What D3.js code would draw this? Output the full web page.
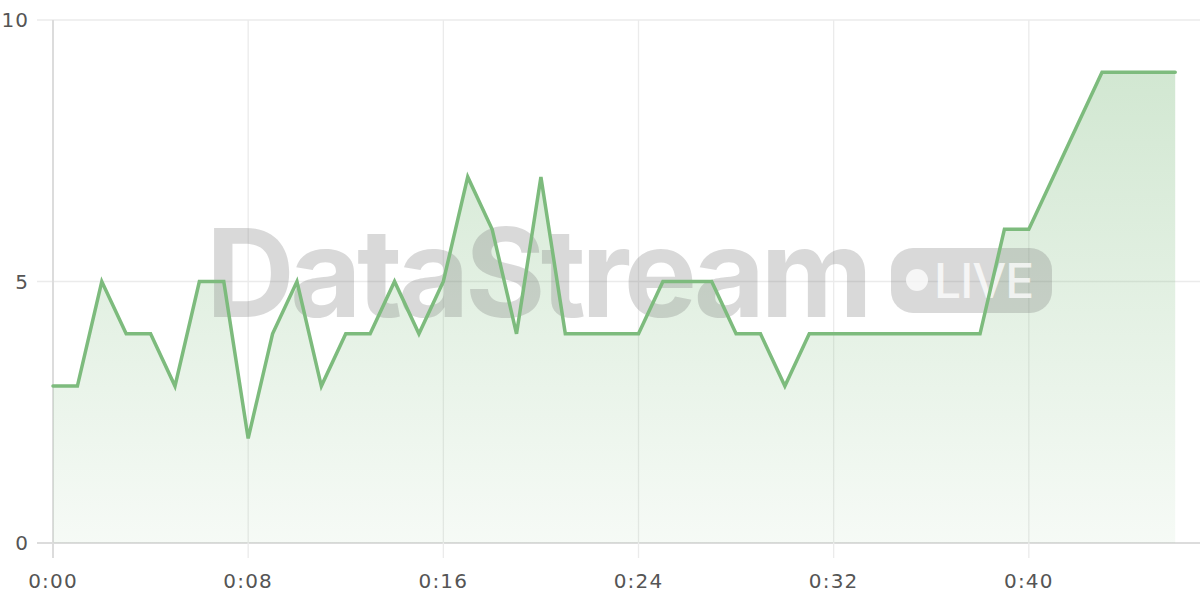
<!DOCTYPE html>
<html>
<head>
<meta charset="utf-8">
<script src="https://cdn.jsdelivr.net/npm/d3@7"></script>
<style>
  body { margin: 0; background: #fff; }
  svg { display: block; font-family: "Inter", "Noto Sans", sans-serif; }
</style>
</head>
<body>
<svg id="chart"></svg>
<script>
// values per second, 0:00 .. 0:46
var seconds = d3.range(0, 47);
var counts = [3, 3, 5, 4, 4, 3, 5, 5, 2, 4, 5, 3, 4, 4, 5, 4, 5, 7, 6, 4,
              7, 4, 4, 4, 4, 5, 5, 5, 4, 4, 3, 4, 4, 4, 4, 4, 4, 4, 4, 6,
              6, 7, 8, 9, 9, 9, 9];
var xTicks = [0, 8, 16, 24, 32, 40];
var yTicks = [0, 5, 10];

var data = seconds.map(function(s, i) { return { t: s, v: counts[i] }; });

var dimensions = { width: 1200, height: 600 };
var margin = { top: 20, right: 0, bottom: 57, left: 53 };

var svg = d3.select("#chart")
    .attr("width", dimensions.width)
    .attr("height", dimensions.height);

var x = d3.scaleLinear()
    .domain([0, 48])
    .range([margin.left, 1224]);

var y = d3.scaleLinear()
    .domain([0, 10])
    .range([dimensions.height - margin.bottom, margin.top]);

// gradient for the area
var defs = svg.append("defs");
var grad = defs.append("linearGradient")
    .attr("id", "fillGrad")
    .attr("gradientUnits", "userSpaceOnUse")
    .attr("x1", 0).attr("x2", 0)
    .attr("y1", y(9)).attr("y2", y(0));
grad.append("stop").attr("offset", "0%").attr("stop-color", "#7dbb7d").attr("stop-opacity", 0.35);
grad.append("stop").attr("offset", "100%").attr("stop-color", "#7dbb7d").attr("stop-opacity", 0.07);

// grid lines
svg.append("g")
    .selectAll("line.hgrid")
    .data(yTicks)
    .enter().append("line")
    .attr("x1", 37).attr("x2", dimensions.width)
    .attr("y1", function(d) { return y(d); })
    .attr("y2", function(d) { return y(d); })
    .style("stroke", function(d) { return d === 0 ? "#dcdcdc" : "#ebebeb"; })
    .style("stroke-width", function(d) { return d === 0 ? 2 : 1.3; });

svg.append("g")
    .selectAll("line.vgrid")
    .data(xTicks)
    .enter().append("line")
    .attr("x1", function(d) { return x(d); })
    .attr("x2", function(d) { return x(d); })
    .attr("y1", y(10)).attr("y2", y(0) + 15)
    .style("stroke", function(d) { return d === 0 ? "#dcdcdc" : "#ebebeb"; })
    .style("stroke-width", function(d) { return d === 0 ? 2 : 1.3; });

// area
var area = d3.area()
    .x(function(d) { return x(d.t); })
    .y0(y(0))
    .y1(function(d) { return y(d.v); });

svg.append("path")
    .datum(data)
    .attr("d", area)
    .style("fill", "url(#fillGrad)");

// watermark
var wm = svg.append("g").attr("class", "watermark");
wm.append("text")
    .attr("x", 206)
    .attr("y", 317)
    .style("font-family", "Inter, 'Noto Sans', sans-serif")
    .style("font-weight", 700)
    .style("font-size", "123px")
    .style("letter-spacing", "-4.6px")
    .style("fill", "rgba(120,120,120,0.28)")
    .text("DataStream");
wm.append("rect")
    .attr("x", 891).attr("y", 248)
    .attr("width", 161).attr("height", 65)
    .attr("rx", 22)
    .style("fill", "rgba(120,120,120,0.28)");
wm.append("circle")
    .attr("cx", 917).attr("cy", 280).attr("r", 11)
    .style("fill", "rgba(255,255,255,0.75)");
wm.append("text")
    .attr("x", 934)
    .attr("y", 298)
    .style("font-family", "Inter, 'Noto Sans', sans-serif")
    .style("font-weight", 500)
    .style("font-size", "48px")
    .style("letter-spacing", "-1px")
    .style("fill", "rgba(255,255,255,0.75)")
    .text("LIVE");

// line
var line = d3.line()
    .x(function(d) { return x(d.t); })
    .y(function(d) { return y(d.v); });

svg.append("path")
    .datum(data)
    .attr("d", line)
    .style("fill", "none")
    .style("stroke", "#7dbb7d")
    .style("stroke-width", 3.5)
    .style("stroke-linejoin", "miter")
    .style("stroke-linecap", "round");

// tick labels
svg.append("g")
    .selectAll("text")
    .data(yTicks)
    .enter().append("text")
    .attr("x", 29)
    .attr("y", function(d) { return y(d); })
    .attr("dy", "0.36em")
    .style("text-anchor", "end")
    .style("font-family", "'DejaVu Sans', sans-serif")
    .style("font-size", "20px")
    .style("letter-spacing", "1px")
    .style("fill", "#555")
    .text(function(d) { return d; });

svg.append("g")
    .selectAll("text")
    .data(xTicks)
    .enter().append("text")
    .attr("x", function(d) { return x(d); })
    .attr("y", 588)
    .style("text-anchor", "middle")
    .style("font-family", "'DejaVu Sans', sans-serif")
    .style("font-size", "20px")
    .style("letter-spacing", "1.2px")
    .style("fill", "#555")
    .text(function(d) { return Math.floor(d / 60) + ":" + d3.format("02d")(d % 60); });
</script>
</body>
</html>
